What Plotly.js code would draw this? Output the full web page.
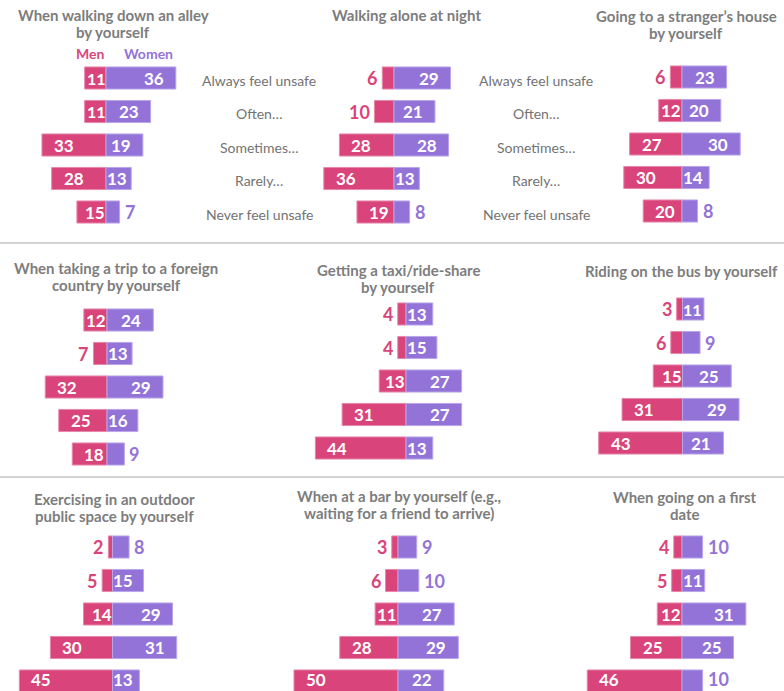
<!DOCTYPE html>
<html><head><meta charset="utf-8">
<script src="https://cdn.plot.ly/plotly-3.0.1.min.js"></script>
<style>html,body{margin:0;padding:0;background:#fff;} #chart{width:784px;height:691px;}</style>
</head><body><div id="chart"></div>
<script>
// ---------- data ----------
const rowLabels = ["Always feel unsafe", "Often…", "Sometimes…", "Rarely…", "Never feel unsafe"];
const seriesNames = ["Men", "Women"];
const titleLines = [
  ["When walking down an alley", "by yourself"],
  ["Walking alone at night"],
  ["Going to a stranger’s house", "by yourself"],
  ["When taking a trip to a foreign", "country by yourself"],
  ["Getting a taxi/ride-share", "by yourself"],
  ["Riding on the bus by yourself"],
  ["Exercising in an outdoor", "public space by yourself"],
  ["When at a bar by yourself (e.g.,", "waiting for a friend to arrive)"],
  ["When going on a first", "date"]
];
const menAlley    = [11, 11, 33, 28, 15];
const womenAlley  = [36, 23, 19, 13, 7];
const menNight    = [6, 10, 28, 36, 19];
const womenNight  = [29, 21, 28, 13, 8];
const menHouse    = [6, 12, 27, 30, 20];
const womenHouse  = [23, 20, 30, 14, 8];
const menTrip     = [12, 7, 32, 25, 18];
const womenTrip   = [24, 13, 29, 16, 9];
const menTaxi     = [4, 4, 13, 31, 44];
const womenTaxi   = [13, 15, 27, 27, 13];
const menBus      = [3, 6, 15, 31, 43];
const womenBus    = [11, 9, 25, 29, 21];
const menExercise = [2, 5, 14, 30, 45];
const womenExercise = [8, 15, 29, 31, 13];
const menBar      = [3, 6, 11, 28, 50];
const womenBar    = [9, 10, 27, 29, 22];
const menDate     = [4, 5, 12, 25, 46];
const womenDate   = [10, 11, 31, 25, 10];

const menSeries = [menAlley, menNight, menHouse, menTrip, menTaxi, menBus, menExercise, menBar, menDate];
const womenSeries = [womenAlley, womenNight, womenHouse, womenTrip, womenTaxi, womenBus, womenExercise, womenBar, womenDate];

// ---------- layout geometry (pixels) ----------
const W = 784, H = 691, SP = 33.5;
const geom = [
  {cx: 106,   s: 1.94, cy: 78,  tx: 113, ty: [15, 32]},
  {cx: 394,   s: 1.95, cy: 78,  tx: 406, ty: [15]},
  {cx: 682,   s: 1.94, cy: 77,  tx: 686, ty: [16, 33]},
  {cx: 107,   s: 1.93, cy: 320, tx: 116, ty: [268, 285]},
  {cx: 406,   s: 2.06, cy: 314, tx: 398, ty: [270, 287]},
  {cx: 682.5, s: 1.95, cy: 309, tx: 681, ty: [271]},
  {cx: 112.5, s: 2.07, cy: 547, tx: 114, ty: [499, 516]},
  {cx: 398,   s: 2.08, cy: 547, tx: 399, ty: [496, 513]},
  {cx: 682,   s: 2.06, cy: 547, tx: 685, ty: [497, 514]}
];
const rowLabelX = [259, 536];
const legendPos = [{x: 90, y: 53}, {x: 148, y: 53}];
const separators = [243, 477];

const MEN = '#d9457b', WOMEN = '#9373d8';
const MEN_LINE = '#e787ab', WOMEN_LINE = '#b9a6ea';
const FONT = 'Lato, "Open Sans", sans-serif';
const NUM_SIZE = 17, DIGIT_W = 9.9;

const px2x = p => p / W;
const px2y = p => 1 - p / H;
const clamp = (v, a, b) => Math.max(a, Math.min(b, v));

const traces = [];
const annotations = [];
const layout = {
  width: W, height: H,
  margin: {l: 0, r: 0, t: 0, b: 0},
  paper_bgcolor: '#fff', plot_bgcolor: 'rgba(0,0,0,0)',
  showlegend: false,
  barmode: 'relative',
  bargap: 0,
  font: {family: FONT},
  annotations: annotations,
  shapes: separators.map(py => ({
    type: 'line', xref: 'paper', yref: 'paper',
    x0: 0, x1: 1, y0: px2y(py), y1: px2y(py),
    line: {color: '#d3d3d3', width: 2}
  }))
};

const rows = rowLabels.map((_, i) => i);

geom.forEach((g, k) => {
  const n = k + 1;
  const xr = n === 1 ? 'x' : 'x' + n;
  const yr = n === 1 ? 'y' : 'y' + n;
  const L = Math.min(56, g.cx / g.s - 0.5);
  const R = Math.min(46, (W - g.cx) / g.s - 0.5);
  layout[n === 1 ? 'xaxis' : 'xaxis' + n] = {
    domain: [px2x(g.cx - g.s * L), px2x(g.cx + g.s * R)],
    range: [-L, R], visible: false, fixedrange: true, anchor: yr
  };
  layout[n === 1 ? 'yaxis' : 'yaxis' + n] = {
    domain: [0, 1],
    range: [(H - g.cy) / SP, -g.cy / SP],
    visible: false, fixedrange: true, anchor: xr
  };
  const men = menSeries[k], women = womenSeries[k];
  traces.push({
    type: 'bar', orientation: 'h', name: seriesNames[0],
    x: men.map(v => -v), y: rows, xaxis: xr, yaxis: yr,
    width: 0.66, marker: {color: MEN, line: {color: MEN_LINE, width: 1}},
    hovertemplate: '%{customdata}<extra>Men</extra>', customdata: men
  });
  traces.push({
    type: 'bar', orientation: 'h', name: seriesNames[1],
    x: women, y: rows, xaxis: xr, yaxis: yr,
    width: 0.66, marker: {color: WOMEN, line: {color: WOMEN_LINE, width: 1}},
    hovertemplate: '%{x}<extra>Women</extra>'
  });

  // value labels
  [[men, -1, MEN], [women, 1, WOMEN]].forEach(([vals, sign, col]) => {
    vals.forEach((v, i) => {
      const txt = String(v);
      const tw = DIGIT_W * txt.length;
      const w = v * g.s;
      const lift = i === vals.length - 1 && g.cy > 500 ? 2 : 0;
      if (v > 10) {
        const shift = clamp(w - tw - 3, 0, 10);
        const size = w < tw + 2 ? NUM_SIZE - 1 : NUM_SIZE;
        annotations.push({
          xref: xr, yref: yr, x: sign * v, y: i,
          xanchor: sign > 0 ? 'right' : 'left', yanchor: 'middle',
          xshift: -sign * shift, yshift: lift,
          text: txt, showarrow: false,
          font: {family: FONT, size: size, color: '#ffffff', weight: 700}
        });
      } else {
        annotations.push({
          xref: xr, yref: yr, x: sign * v, y: i,
          xanchor: sign > 0 ? 'left' : 'right', yanchor: 'middle',
          xshift: sign * 3, yshift: lift,
          text: txt, showarrow: false,
          font: {family: FONT, size: NUM_SIZE + 1, color: col, weight: 700}
        });
      }
    });
  });

  // titles
  titleLines[k].forEach((line, j) => {
    annotations.push({
      xref: 'paper', yref: 'paper', x: px2x(g.tx), y: px2y(g.ty[j]),
      xanchor: 'center', yanchor: 'middle', showarrow: false,
      text: line, font: {family: FONT, size: 15, color: '#7d7d7d', weight: 700}
    });
  });
});

// row labels (between columns of top row)
rowLabelX.forEach(px => {
  rowLabels.forEach((lab, i) => {
    annotations.push({
      xref: 'paper', yref: 'y', x: px2x(px), y: i, yshift: -2,
      xanchor: 'center', yanchor: 'middle', showarrow: false,
      text: lab, font: {family: FONT, size: 14, color: '#737373'}
    });
  });
});

// legend words
seriesNames.forEach((nm, j) => {
  annotations.push({
    xref: 'paper', yref: 'paper', x: px2x(legendPos[j].x), y: px2y(legendPos[j].y),
    xanchor: 'center', yanchor: 'middle', showarrow: false,
    text: nm, font: {family: FONT, size: 14, color: j === 0 ? MEN : WOMEN, weight: 700}
  });
});

Plotly.newPlot('chart', traces, layout, {displayModeBar: false, staticPlot: true});
</script>
</body></html>
